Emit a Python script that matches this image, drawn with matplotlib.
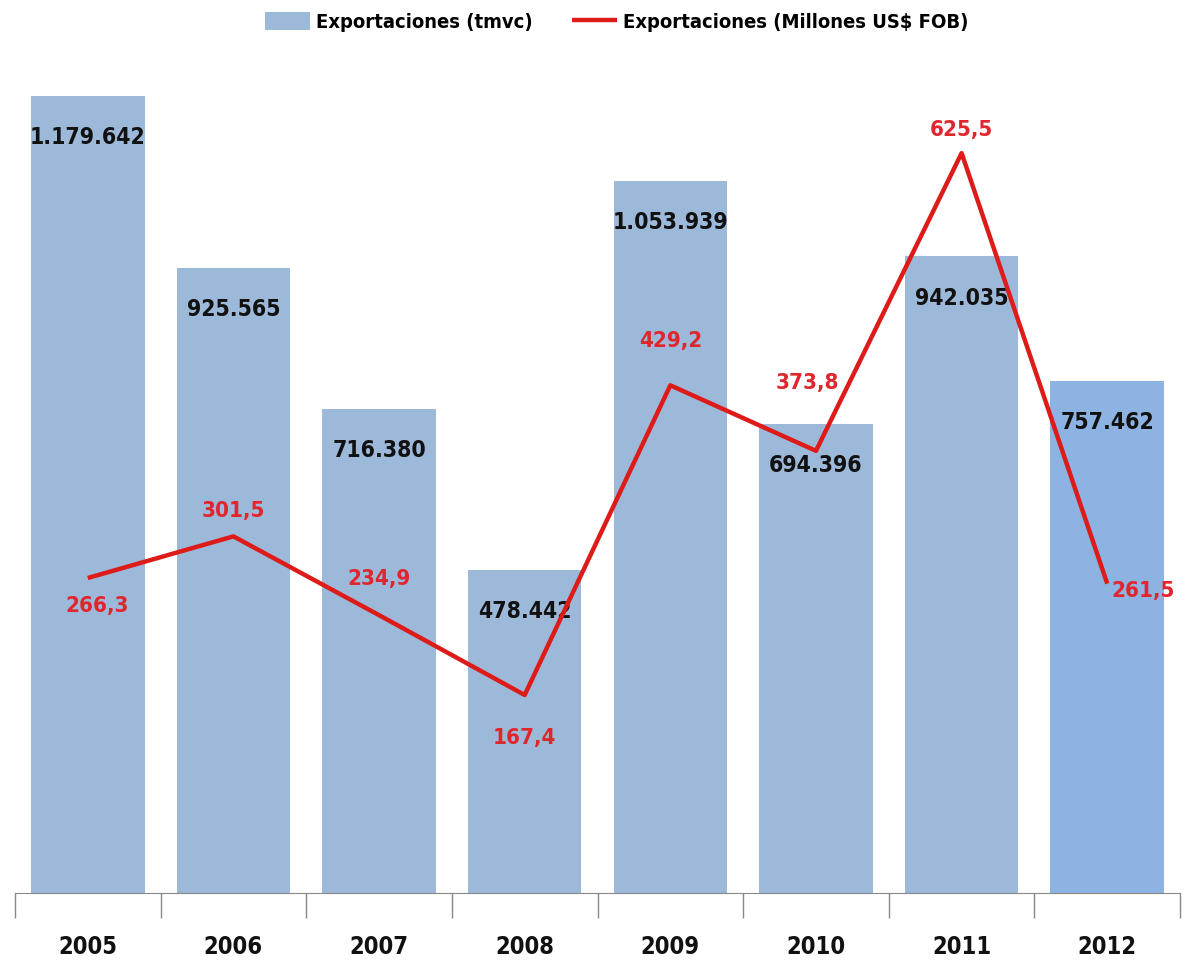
import numpy as np
import matplotlib
matplotlib.use("Agg")
import matplotlib.pyplot as plt
from matplotlib.ticker import FixedLocator

plt.rcParams['font.family'] = ['DejaVu Sans']
plt.rcParams['font.stretch'] = 'condensed'

# -----------------------------
# datos
# -----------------------------
years = ["2005", "2006", "2007", "2008", "2009", "2010", "2011", "2012"]
tmvc = [1179642, 925565, 716380, 478442, 1053939, 694396, 942035, 757462]
usd = [266.3, 301.5, 234.9, 167.4, 429.2, 373.8, 625.5, 261.5]
tmvc_labels = ["1.179.642", "925.565", "716.380", "478.442",
               "1.053.939", "694.396", "942.035", "757.462"]
usd_labels = ["266,3", "301,5", "234,9", "167,4", "429,2", "373,8", "625,5", "261,5"]

# posicion de etiquetas de la linea (offset en puntos)
usd_offsets = [(7, -20), (0, 18), (0, 26), (0, -31), (0, 32), (-6, 49), (0, 17), (26, -5)]

fig = plt.figure(figsize=(11.86, 9.63), dpi=100)
ax = fig.add_axes([0.0126, 0.0727, 0.9824, 0.842])
x = np.arange(len(years))

bar_colors = ["#9DB9DA"] * 7 + ["#8DB3E2"]
bars = ax.bar(x, tmvc, width=0.78, color=bar_colors, label="Exportaciones (tmvc)", zorder=1)

ax.set_xlim(-0.5, len(years) - 0.5)
ax.set_ylim(0, 1200000)

for xi, v, lab in zip(x, tmvc, tmvc_labels):
    ax.annotate(lab, (xi, v), xytext=(0, -30), textcoords="offset points",
                ha="center", va="center", fontsize=16.5, fontweight="bold", color="#111111")

# eje secundario
ax2 = ax.twinx()
ax2.set_ylim(0, 685.5)
line, = ax2.plot(x, usd, color="#DD1C1A", linewidth=3.2, label="Exportaciones (Millones US$ FOB)",
                 solid_capstyle="butt", zorder=3)
for xi, v, lab, off in zip(x, usd, usd_labels, usd_offsets):
    ax2.annotate(lab, (xi, v), xytext=off, textcoords="offset points",
                 ha="center", va="center", fontsize=16, fontweight="bold", color="#E0262C")

#----------------------------------------
# ejes
#----------------------------------------
for a in (ax, ax2):
    for s in ["top", "right", "left"]:
        a.spines[s].set_visible(False)
    a.spines["bottom"].set_color("#888888")
ax2.spines["bottom"].set_visible(False)
ax.set_yticks([])
ax2.set_yticks([])

ax.set_xticks(x)
ax.set_xticklabels(years, fontsize=17, fontweight="bold", color="#111111")
ax.tick_params(axis="x", which="major", length=0, pad=30)
ax.xaxis.set_minor_locator(FixedLocator(np.arange(-0.5, len(years), 1.0)))
ax.tick_params(axis="x", which="minor", length=18, color="#888888", width=1)

#----------------------------------------
# leyenda
#----------------------------------------
fig.legend(handles=[bars, line], loc="upper center", bbox_to_anchor=(0.52, 1.006), ncol=2,
           frameon=False, prop={"size": 14.5, "weight": "bold"}, handlelength=2.2,
           handleheight=1.0, columnspacing=2.0, handletextpad=0.3)

plt.savefig("out.png", dpi=100)
